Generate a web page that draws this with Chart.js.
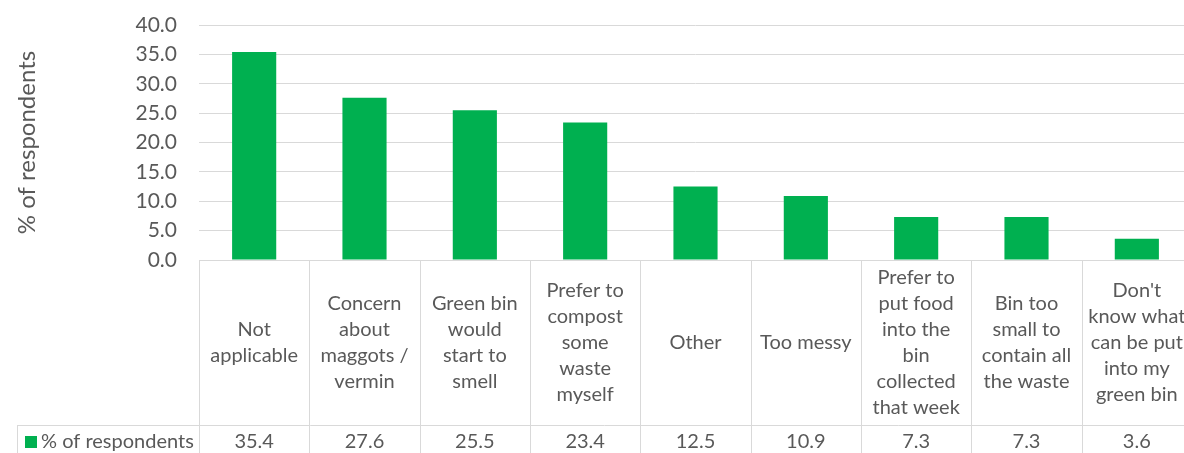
<!DOCTYPE html>
<html>
<head>
<meta charset="utf-8">
<script src="https://cdn.jsdelivr.net/npm/chart.js@4"></script>
<style>
  html, body { margin: 0; padding: 0; background: #fff; overflow: hidden; }
  #wrap { width: 1184px; height: 453px; overflow: hidden; }
</style>
</head>
<body>
<div id="wrap"><canvas id="chart-bar" width="1200" height="453"></canvas></div>
<script>
// ========== data ==========
const categories = [
  ["Not", "applicable"],
  ["Concern", "about", "maggots /", "vermin"],
  ["Green bin", "would", "start to", "smell"],
  ["Prefer to", "compost", "some", "waste", "myself"],
  ["Other"],
  ["Too messy"],
  ["Prefer to", "put food", "into the", "bin", "collected", "that week"],
  ["Bin too", "small to", "contain all", "the waste"],
  ["Don't", "know what", "can be put", "into my", "green bin"],
];
const seriesName = "% of respondents";
const values = [35.4, 27.6, 25.5, 23.4, 12.5, 10.9, 7.3, 7.3, 3.6];
const yTicks = [0, 5, 10, 15, 20, 25, 30, 35, 40];

const green = "#00B050";
const textColor = "#595959";
const lineColor = "#D9D9D9";
const fontFamily = "Lato, 'Open Sans', sans-serif";

// data table under the plot (category row + value row)
const dataTable = {
  id: "dataTable",
  afterDraw: (chart) => {
    const { ctx, chartArea, scales } = chart;
    const x = scales.x;
    const top = chartArea.bottom;
    const rowTop = 425;
    const bottom = chart.height;
    const tableLeft = 17;
    const step = x.getPixelForValue(1) - x.getPixelForValue(0);

    ctx.save();
    ctx.strokeStyle = lineColor;
    ctx.lineWidth = 1;
    ctx.beginPath();
    // top border and value row border
    ctx.moveTo(chartArea.left, top + 0.5);
    ctx.lineTo(chartArea.right, top + 0.5);
    ctx.moveTo(tableLeft, rowTop + 0.5);
    ctx.lineTo(chartArea.right, rowTop + 0.5);
    ctx.moveTo(tableLeft + 0.5, rowTop);
    ctx.lineTo(tableLeft + 0.5, bottom);
    for (let i = 0; i <= categories.length; i++) {
      const px = Math.round(x.getPixelForValue(i) - step / 2) + 0.5;
      ctx.moveTo(px, top);
      ctx.lineTo(px, bottom);
    }
    ctx.stroke();

    ctx.fillStyle = textColor;
    ctx.font = "20px " + fontFamily;
    ctx.textAlign = "center";
    ctx.textBaseline = "middle";
    const lineHeight = 26;
    const midCat = (top + rowTop) / 2;
    categories.forEach((lines, i) => {
      const cx = x.getPixelForValue(i);
      const y0 = midCat - ((lines.length - 1) * lineHeight) / 2;
      lines.forEach((line, j) => ctx.fillText(line, cx, y0 + j * lineHeight));
      ctx.fillText(values[i].toFixed(1), cx, 442);
    });

    // legend key in the value row
    ctx.fillStyle = green;
    ctx.fillRect(25, 436, 12, 12);
    ctx.fillStyle = textColor;
    ctx.textAlign = "left";
    ctx.fillText(seriesName, 41, 442);
    ctx.restore();
  },
};

const ctxBar = document.getElementById("chart-bar").getContext("2d");
const chartBar = new Chart(ctxBar, {
  type: "bar",
  data: {
    labels: categories,
    datasets: [
      {
        label: seriesName,
        backgroundColor: green,
        data: values,
        barPercentage: 0.4,
        categoryPercentage: 1,
      },
    ],
  },
  options: {
    responsive: false,
    animation: false,
    layout: {
      padding: { top: 25, bottom: 193, right: 8, left: 0 },
    },
    plugins: {
      legend: { display: false },
      tooltip: { enabled: false },
    },
    scales: {
      x: {
        display: false,
      },
      y: {
        min: 0,
        max: 40,
        afterBuildTicks: (scale) => {
          scale.ticks = yTicks.map((v) => ({ value: v }));
        },
        afterFit: (scale) => {
          scale.width = 199;
          // let the layout padding alone decide the plot's top and bottom
          scale.paddingTop = 0;
          scale.paddingBottom = 0;
        },
        border: { display: false },
        grid: { color: lineColor, drawTicks: false },
        ticks: {
          padding: 22,
          color: textColor,
          font: { family: fontFamily, size: 21 },
          callback: (v) => Number(v).toFixed(1),
        },
        title: {
          display: true,
          text: seriesName,
          color: textColor,
          font: { family: fontFamily, size: 24 },
          padding: { top: 13, bottom: 0 },
        },
      },
    },
  },
  plugins: [dataTable],
});
</script>
</body>
</html>
